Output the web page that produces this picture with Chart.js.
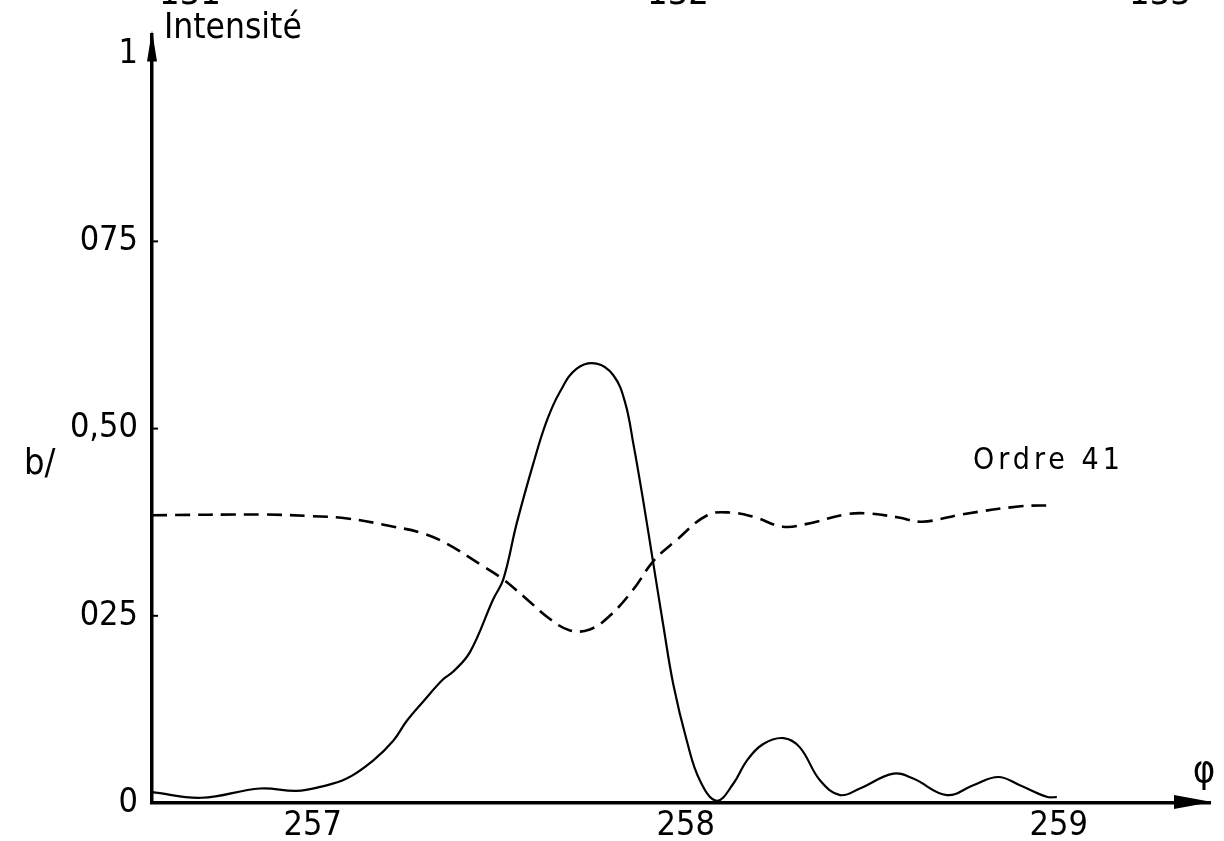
<!DOCTYPE html>
<html>
<head>
<meta charset="utf-8">
<script src="https://cdn.jsdelivr.net/npm/chart.js@4.4.1/dist/chart.umd.min.js"></script>
<style>
html,body{margin:0;padding:0;background:#fff;}
canvas{display:block;}
</style>
</head>
<body>
<canvas id="c" width="1224" height="841"></canvas>
<script>
// ---- data ----
const solidX = [256.569,256.702,256.859,256.957,257.020,257.091,257.162,257.216,257.252,257.297,257.349,257.377,257.422,257.484,257.511,257.547,257.591,257.627,257.663,257.708,257.761,257.806,257.837,257.860,257.886,257.913,257.940,257.967,258.003,258.038,258.083,258.128,258.164,258.208,258.262,258.306,258.360,258.414,258.467,258.557,258.610,258.700,258.771,258.838,258.896,258.968,258.995];
const solidY = [0.0145,0.007,0.0194,0.0162,0.0215,0.0326,0.0567,0.0831,0.1095,0.1359,0.1649,0.1755,0.2018,0.2722,0.2986,0.3734,0.4525,0.5096,0.5492,0.5801,0.5867,0.5712,0.536,0.4789,0.4041,0.3206,0.2371,0.1579,0.0831,0.0303,0.003,0.026,0.0567,0.0788,0.0867,0.0743,0.0303,0.0106,0.0194,0.0392,0.0326,0.0106,0.0237,0.0347,0.0237,0.0083,0.0079];

const dashX = [256.569,256.875,256.999,257.093,257.217,257.295,257.357,257.457,257.511,257.574,257.636,257.690,257.743,257.797,257.860,257.913,257.976,258.058,258.120,258.182,258.260,258.322,258.431,258.493,258.571,258.634,258.742,258.898,258.983];
const dashY = [0.3843,0.3852,0.383,0.38,0.369,0.3602,0.347,0.3162,0.2986,0.2722,0.2458,0.2305,0.2318,0.2503,0.2854,0.3228,0.3513,0.3843,0.3879,0.3822,0.369,0.3724,0.3856,0.3865,0.3813,0.3756,0.3856,0.3962,0.3975];

const xTickValues = [257, 258, 259];
const xTickLabels = ['257', '258', '259'];
const yTickValues = [0, 0.25, 0.5, 0.75, 1];
const yTickLabels = ['0', '025', '0,50', '075', '1'];
const topLabels = ['131', '132', '133'];
const seriesLabel = 'Ordre 41';
const yTitle = 'Intensité';
const xTitle = 'φ';
const sideLabel = 'b/';

const FONT = "'Liberation Sans Narrow','DejaVu Sans Condensed','DejaVu Sans',sans-serif";

const toPts = (xs, ys) => xs.map((x, i) => ({x: x, y: ys[i]}));

const decor = {
  id: 'decor',
  afterDraw(chart) {
    const ctx = chart.ctx;
    const xs = chart.scales.x, ys = chart.scales.y;
    const ax = xs.left, ay = ys.bottom;
    ctx.save();
    ctx.fillStyle = '#000';
    ctx.strokeStyle = '#000';
    // arrowheads
    ctx.beginPath();
    ctx.moveTo(ax, ys.top - 4);
    ctx.lineTo(ax - 5, ys.top + 27);
    ctx.lineTo(ax + 5, ys.top + 27);
    ctx.closePath();
    ctx.fill();
    ctx.beginPath();
    ctx.moveTo(xs.right + 2, ay - 1);
    ctx.lineTo(xs.right - 36, ay - 8);
    ctx.lineTo(xs.right - 36, ay + 6);
    ctx.closePath();
    ctx.fill();
    // small tick stubs on y axis
    ctx.lineWidth = 2;
    [0.25, 0.5, 0.75].forEach(v => {
      const py = ys.getPixelForValue(v);
      ctx.beginPath();
      ctx.moveTo(ax, py);
      ctx.lineTo(ax + 6, py);
      ctx.stroke();
    });
    // texts
    ctx.textBaseline = 'alphabetic';
    ctx.textAlign = 'left';
    ctx.font = '35px ' + FONT;
    ctx.fillText(yTitle, 164, 38);
    ctx.font = '300 30px ' + FONT;
    ctx.letterSpacing = '4px';
    ctx.fillText(seriesLabel, 973, 469);
    ctx.letterSpacing = '0px';
    ctx.font = '36px ' + FONT;
    ctx.fillText(sideLabel, 24, 474);
    ctx.font = '38px ' + FONT;
    ctx.textAlign = 'center';
    ctx.fillText(xTitle, 1204, 782);
    ctx.font = '36px ' + FONT;
    const topX = [190, 678, 1160];
    topLabels.forEach((t, i) => ctx.fillText(t, topX[i], 4));
    ctx.restore();
  }
};

new Chart(document.getElementById('c'), {
  type: 'line',
  data: {
    datasets: [
      {
        data: toPts(solidX, solidY),
        borderColor: '#000',
        borderWidth: 2.2,
        pointRadius: 0,
        tension: 0.4,
        fill: false
      },
      {
        label: seriesLabel,
        data: toPts(dashX, dashY),
        borderColor: '#000',
        borderWidth: 2.6,
        borderDash: [15, 8],
        pointRadius: 0,
        tension: 0.4,
        fill: false
      }
    ]
  },
  options: {
    responsive: false,
    devicePixelRatio: 1,
    animation: false,
    layout: {padding: {left: 0, top: 25, right: 14, bottom: 0}},
    plugins: {legend: {display: false}, tooltip: {enabled: false}},
    scales: {
      x: {
        type: 'linear',
        min: 256.5692,
        max: 259.4057,
        grid: {display: false, drawTicks: false},
        border: {display: true, color: '#000', width: 3.5},
        afterBuildTicks: s => { s.ticks = xTickValues.map(v => ({value: v})); },
        afterFit: s => { s.height = 38; },
        ticks: {
          color: '#000',
          font: {family: FONT, size: 34},
          padding: 3,
          maxRotation: 0,
          autoSkip: false,
          callback: v => { const i = xTickValues.indexOf(v); return i >= 0 ? xTickLabels[i] : ''; }
        }
      },
      y: {
        type: 'linear',
        min: 0,
        max: 1.0264,
        grid: {display: false, drawTicks: false},
        border: {display: true, color: '#000', width: 3.5},
        afterBuildTicks: s => { s.ticks = yTickValues.map(v => ({value: v})); },
        afterFit: s => { s.width = 152; },
        ticks: {
          color: '#000',
          font: {family: FONT, size: 34},
          padding: 14,
          autoSkip: false,
          callback: v => { const i = yTickValues.indexOf(v); return i >= 0 ? yTickLabels[i] : ''; }
        }
      }
    }
  },
  plugins: [decor]
});
</script>
</body>
</html>
